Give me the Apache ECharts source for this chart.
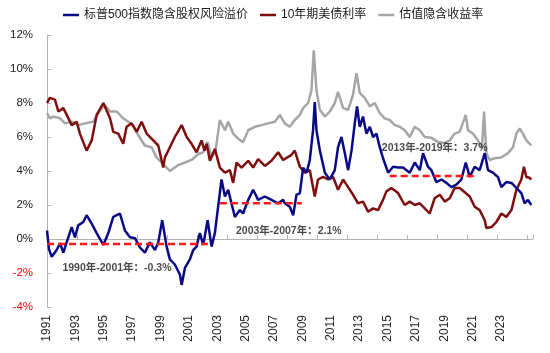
<!DOCTYPE html>
<html>
<head>
<meta charset="utf-8">
<script src="https://cdn.jsdelivr.net/npm/echarts@6/dist/echarts.min.js"></script>
<style>
  html, body { margin: 0; padding: 0; background: #fff; }
  #chart { width: 550px; height: 353px; }
</style>
</head>
<body>
<div id="chart"></div>
<script>
// 横轴单位为图上年份刻度
const yTicks = [-4, -2, 0, 2, 4, 6, 8, 10, 12]
const xLabelFirst = 1991
const xLabelLast = 2023

// 标普500指数隐含股权风险溢价 (%)
const erp = [
  [1991.00, 0.5], [1991.14, -0.6], [1991.33, -1.05], [1991.68, -0.65], [1991.92, -0.25],
  [1992.15, -0.8], [1992.50, 0.1], [1992.74, 0.7], [1992.97, 0.1], [1993.20, 0.8],
  [1993.56, 1.0], [1993.79, 1.4], [1994.15, 0.9], [1994.50, 0.35], [1994.97, -0.35],
  [1995.32, 0.35], [1995.67, 1.3], [1996.14, 1.5], [1996.49, 0.5], [1996.85, 0.1],
  [1997.20, 0.05], [1997.55, -0.5], [1997.90, -0.8], [1998.25, -0.2], [1998.61, -0.65],
  [1998.84, -0.2], [1999.12, 1.1], [1999.43, -0.45], [1999.66, -1.2], [2000.01, -1.5],
  [2000.37, -2.1], [2000.49, -2.7], [2000.72, -1.7], [2001.07, -1.2], [2001.30, -0.65],
  [2001.54, -0.45], [2001.77, 0.35], [2002.01, -0.35], [2002.32, 1.1], [2002.60, -0.45],
  [2002.83, 0.35], [2003.06, 1.9], [2003.30, 3.5], [2003.54, 2.5], [2003.77, 2.9],
  [2004.00, 2.1], [2004.24, 1.3], [2004.59, 1.7], [2004.82, 1.5], [2005.18, 2.3],
  [2005.53, 2.9], [2005.88, 2.3], [2006.35, 2.5], [2006.82, 2.3], [2007.29, 2.1],
  [2007.64, 2.3], [2007.76, 2.1], [2008.11, 1.9], [2008.35, 1.4], [2008.58, 2.6],
  [2008.82, 2.7], [2009.05, 4.2], [2009.29, 3.9], [2009.52, 4.65], [2009.75, 6.4],
  [2009.87, 8.05], [2009.99, 6.4], [2010.23, 5.2], [2010.58, 3.9], [2010.93, 3.5],
  [2011.28, 4.05], [2011.51, 5.4], [2011.75, 6.0], [2011.99, 5.05], [2012.22, 4.05],
  [2012.46, 5.2], [2012.69, 6.8], [2012.85, 7.8], [2013.04, 6.6], [2013.27, 7.2],
  [2013.51, 6.2], [2013.75, 6.6], [2013.98, 6.0], [2014.22, 6.2], [2014.45, 5.4],
  [2014.68, 4.75], [2015.04, 3.9], [2015.39, 4.25], [2015.74, 4.2], [2016.09, 4.2],
  [2016.56, 3.9], [2016.92, 4.5], [2017.27, 4.05], [2017.50, 5.05], [2017.85, 4.25],
  [2018.09, 4.05], [2018.44, 3.35], [2018.80, 3.5], [2019.15, 3.3], [2019.50, 3.05],
  [2019.85, 3.2], [2020.20, 3.5], [2020.51, 4.5], [2020.79, 3.65], [2021.14, 4.25],
  [2021.49, 4.05], [2021.85, 5.05], [2022.08, 4.05], [2022.43, 3.9], [2022.78, 3.65],
  [2023.02, 3.05], [2023.37, 3.35], [2023.73, 3.3], [2024.08, 3.0], [2024.43, 2.7],
  [2024.66, 2.1], [2024.89, 2.3], [2025.13, 2.0]
]

// 10年期美债利率 (%)
const ust10y = [
  [1991.00, 8.0], [1991.20, 8.3], [1991.56, 8.2], [1991.80, 7.5], [1992.15, 7.7],
  [1992.39, 7.3], [1992.74, 6.7], [1993.09, 6.9], [1993.32, 6.2], [1993.79, 5.2],
  [1994.15, 5.8], [1994.50, 7.3], [1994.97, 8.0], [1995.44, 7.1], [1995.67, 6.3],
  [1996.02, 6.2], [1996.37, 5.6], [1996.61, 6.6], [1996.96, 6.8], [1997.32, 6.3],
  [1997.67, 6.9], [1998.02, 6.2], [1998.37, 5.9], [1998.84, 5.5], [1999.19, 4.2],
  [1999.31, 4.8], [1999.66, 5.4], [2000.01, 6.0], [2000.49, 6.7], [2000.84, 6.0],
  [2001.19, 5.6], [2001.54, 5.1], [2001.89, 5.8], [2002.10, 5.2], [2002.25, 5.6],
  [2002.48, 4.6], [2002.83, 5.3], [2003.18, 4.2], [2003.54, 3.9], [2003.89, 4.05],
  [2004.12, 3.3], [2004.36, 4.5], [2004.71, 4.2], [2005.18, 4.6], [2005.53, 4.2],
  [2005.88, 4.7], [2006.35, 4.3], [2006.82, 4.6], [2007.29, 5.1], [2007.64, 4.65],
  [2007.76, 4.75], [2008.23, 4.95], [2008.46, 5.2], [2008.82, 4.25], [2009.17, 3.9],
  [2009.52, 4.05], [2009.87, 2.5], [2010.10, 3.5], [2010.46, 3.65], [2010.81, 3.5],
  [2011.16, 3.65], [2011.51, 2.9], [2011.87, 3.5], [2012.22, 3.05], [2012.57, 2.6],
  [2012.92, 2.1], [2013.27, 2.2], [2013.63, 1.6], [2013.98, 1.8], [2014.33, 1.7],
  [2014.68, 2.3], [2014.92, 2.8], [2015.27, 3.0], [2015.74, 2.7], [2016.21, 2.0],
  [2016.56, 2.2], [2016.92, 2.0], [2017.27, 2.1], [2017.62, 1.8], [2017.97, 1.5],
  [2018.32, 2.4], [2018.68, 2.6], [2019.03, 2.2], [2019.38, 2.4], [2019.73, 3.0],
  [2020.08, 3.0], [2020.44, 2.75], [2020.79, 2.5], [2021.14, 1.9], [2021.49, 1.7],
  [2021.85, 1.1], [2021.96, 0.65], [2022.32, 0.7], [2022.67, 1.0], [2023.02, 1.5],
  [2023.37, 1.3], [2023.73, 1.7], [2024.08, 2.9], [2024.43, 3.5], [2024.61, 4.25],
  [2024.78, 3.65], [2025.01, 3.6], [2025.13, 3.5]
]

// 估值隐含收益率 (%)
const earningsYield = [
  [1991.00, 7.4], [1991.20, 7.1], [1991.44, 7.2], [1991.92, 7.1], [1992.27, 6.8],
  [1992.74, 6.9], [1993.20, 6.7], [1993.68, 6.8], [1994.26, 6.9], [1994.61, 7.4],
  [1995.04, 7.9], [1995.44, 7.5], [1995.91, 7.5], [1996.37, 7.1], [1996.73, 6.9],
  [1997.08, 6.7], [1997.43, 6.1], [1997.90, 5.5], [1998.37, 5.4], [1998.72, 4.8],
  [1999.08, 4.5], [1999.43, 4.2], [1999.66, 4.0], [1999.78, 4.05], [2000.25, 4.35],
  [2000.72, 4.5], [2001.19, 4.65], [2001.66, 5.0], [2002.01, 5.1], [2002.32, 5.7],
  [2002.60, 4.8], [2002.88, 5.2], [2003.18, 7.0], [2003.54, 6.4], [2003.77, 6.9],
  [2004.12, 6.2], [2004.47, 5.9], [2004.82, 5.7], [2005.18, 6.4], [2005.65, 6.6],
  [2006.12, 6.7], [2006.58, 6.8], [2007.06, 6.9], [2007.41, 7.3], [2007.76, 6.8],
  [2008.11, 6.6], [2008.46, 7.0], [2008.82, 7.3], [2009.05, 7.7], [2009.40, 8.0],
  [2009.64, 8.75], [2009.80, 11.1], [2009.99, 8.75], [2010.23, 7.6], [2010.58, 7.2],
  [2010.93, 7.5], [2011.28, 8.0], [2011.51, 8.65], [2011.87, 7.7], [2012.22, 7.6],
  [2012.57, 8.5], [2012.81, 9.75], [2013.04, 8.6], [2013.39, 8.3], [2013.75, 7.8],
  [2014.10, 8.0], [2014.45, 7.4], [2014.80, 7.1], [2015.15, 7.0], [2015.51, 6.7],
  [2015.86, 6.6], [2016.21, 6.4], [2016.56, 6.0], [2016.92, 6.6], [2017.27, 6.4],
  [2017.62, 6.0], [2018.09, 5.95], [2018.56, 5.7], [2019.03, 5.65], [2019.38, 5.8],
  [2019.73, 6.2], [2020.08, 6.3], [2020.51, 7.3], [2020.67, 6.4], [2021.02, 6.2],
  [2021.37, 5.8], [2021.65, 5.35], [2021.80, 7.5], [2021.96, 5.05], [2022.20, 4.65],
  [2022.55, 4.75], [2023.02, 4.8], [2023.49, 5.05], [2023.84, 5.4], [2024.08, 6.2],
  [2024.31, 6.5], [2024.54, 6.2], [2024.78, 5.8], [2025.13, 5.5]
]

// 分段均值
const periodNames = ['1990年-2001年', '2003年-2007年', '2013年-2019年']
const periodFrom = [1991.0, 2003.18, 2015.15]
const periodTo = [2002.34, 2008.96, 2021.28]
const periodMean = [-0.3, 2.1, 3.7]
// 文字说明的锚点 (横轴年份, 纵轴%)
const noteAnchors = [[1995.93, -1.7], [2008.04, 0.47], [2018.32, 5.35]]

const names = ['标普500指数隐含股权风险溢价', '10年期美债利率', '估值隐含收益率']
const colors = ['#0a0a86', '#7f0f0f', '#a6a6a6']
const FONT = 'Liberation Sans, Noto Sans CJK SC, sans-serif'
const AXIS_GRAY = '#b3b3b3'

const grid = { left: 47, right: 17, top: 35, bottom: 46 }
const plotH = 353 - grid.top - grid.bottom
const yMin = yTicks[0]
const yMax = yTicks[yTicks.length - 1]
// 0% 以上部分的高度，用第二个 grid 把零轴画在它的底边
const upperH = plotH * yMax / (yMax - yMin)

const chart = echarts.init(document.getElementById('chart'))

const lineSeries = (name, data, color, z) => ({
  name,
  type: 'line',
  data,
  showSymbol: false,
  symbol: 'none',
  z,
  lineStyle: { color, width: 2.5 },
  itemStyle: { color }
})

const series = [
  lineSeries(names[2], earningsYield, colors[2], 2),
  lineSeries(names[1], ust10y, colors[1], 3),
  lineSeries(names[0], erp, colors[0], 4)
]

periodMean.forEach((m, i) => {
  series.push({
    name: 'mean' + i,
    type: 'line',
    data: [[periodFrom[i], m], [periodTo[i], m]],
    symbol: 'none',
    silent: true,
    z: 5,
    lineStyle: { color: '#ff1a1a', width: 2.5, type: [7, 4] }
  })
})

series.push({
  name: 'notes',
  type: 'scatter',
  symbolSize: 0,
  silent: true,
  z: 6,
  data: noteAnchors.map((p, i) => ({
    value: p,
    text: periodNames[i] + '：' + periodMean[i].toFixed(1) + '%'
  })),
  label: {
    show: true,
    position: 'inside',
    formatter: p => p.data.text,
    color: '#1a1a1a',
    fontWeight: 'bold',
    fontSize: 10.5,
    fontFamily: FONT
  }
})

const option = {
  animation: false,
  backgroundColor: '#fff',
  textStyle: { fontFamily: FONT },
  legend: {
    data: names,
    left: 58,
    top: 4,
    icon: 'rect',
    itemWidth: 16,
    itemHeight: 2.5,
    itemGap: 12,
    textStyle: { fontSize: 12, color: '#1a1a1a', fontFamily: FONT }
  },
  grid: [
    { ...grid, containLabel: false, outerBoundsMode: 'none' },
    { left: grid.left, right: grid.right, top: grid.top, height: upperH, containLabel: false, outerBoundsMode: 'none' }
  ],
  xAxis: [
    {
      type: 'value',
      gridIndex: 0,
      min: xLabelFirst,
      max: 2025.25,
      interval: 1,
      position: 'bottom',
      axisLine: { show: false, onZero: false },
      axisTick: { show: false },
      splitLine: { show: false },
      axisLabel: {
        rotate: 90,
        margin: 8,
        fontSize: 12,
        color: '#262626',
        showMaxLabel: false,
        formatter: v => (v % 2 === 1 && v <= xLabelLast) ? String(v) : ''
      }
    },
    {
      // 零轴及刻度
      type: 'value',
      gridIndex: 1,
      min: 0,
      max: 16.2,
      interval: 1,
      position: 'bottom',
      axisLine: { show: true, onZero: false, lineStyle: { color: AXIS_GRAY, width: 1 } },
      axisTick: { show: true, inside: true, length: 4, lineStyle: { color: AXIS_GRAY } },
      axisLabel: { show: false },
      splitLine: { show: false }
    }
  ],
  yAxis: [
    {
      type: 'value',
      gridIndex: 0,
      min: yMin,
      max: yMax,
      interval: 2,
      axisLine: { show: true, onZero: false, lineStyle: { color: AXIS_GRAY, width: 1 } },
      axisTick: { show: true, inside: true, length: 4, lineStyle: { color: AXIS_GRAY } },
      splitLine: { show: false },
      axisLabel: {
        margin: 14,
        fontSize: 11.5,
        color: v => (v < 0 ? '#ff0000' : '#1a1a1a'),
        formatter: v => v + '%'
      }
    },
    {
      type: 'value',
      gridIndex: 1,
      min: 0,
      max: 1,
      show: false
    }
  ],
  series
}

chart.setOption(option)
</script>
</body>
</html>
